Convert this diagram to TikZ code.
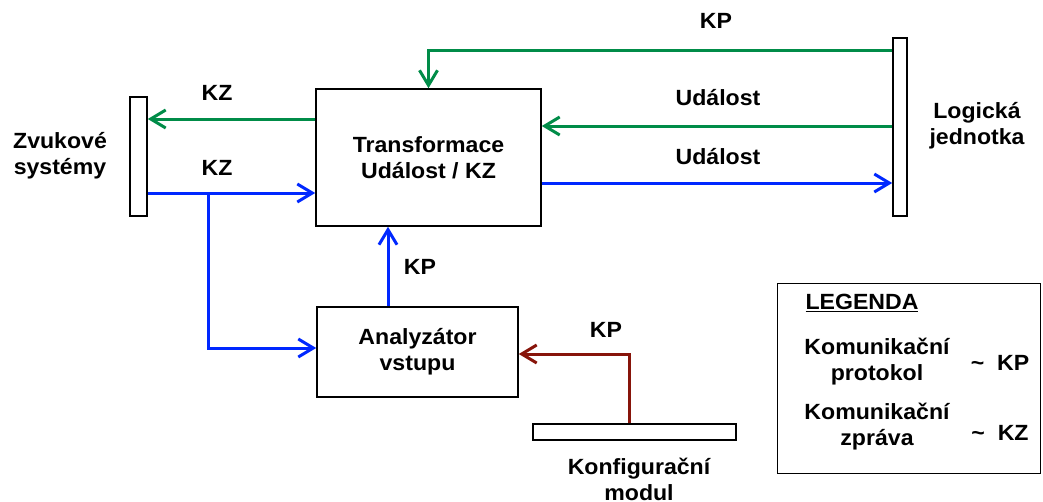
\documentclass[tikz,border=0pt]{standalone}
\usepackage{fontspec}
\setmainfont{Liberation Sans}[FakeStretch=1.05]
\usetikzlibrary{arrows.meta}
\definecolor{cgreen}{RGB}{0,140,72}
\definecolor{cblue}{RGB}{0,40,255}
\definecolor{cred}{RGB}{135,20,10}
\tikzset{
  txt/.style={font=\fontsize{22}{26}\selectfont\bfseries, align=center, inner sep=0pt},
  blk/.style={draw=black, line width=1.6pt, fill=white, inner sep=0pt},
  conn/.style={line width=3pt, -{Straight Barb[length=15pt,width=18pt,line width=3pt]}},
  gconn/.style={conn, draw=cgreen},
  bconn/.style={conn, draw=cblue},
  rconn/.style={conn, draw=cred},
}
\begin{document}
\begin{tikzpicture}[x=1pt,y=-1pt]
\useasboundingbox (0,0) rectangle (1043,501);
% blocks
\node[blk, minimum width=17pt, minimum height=119pt] (zs) at (138.5,156.5) {};
\node[blk, minimum width=225pt, minimum height=137pt, txt] (tr) at (428.5,157.5) {Transformace\\Událost / KZ};
\node[blk, minimum width=14pt, minimum height=178pt] (lj) at (900,127) {};
\node[blk, minimum width=201pt, minimum height=90pt, txt] (an) at (417.5,352) {Analyzátor\\vstupu};
\node[blk, minimum width=203pt, minimum height=16pt] (km) at (634.5,432) {};
% block captions
\node[txt] (zst) at (60,156) {Zvukové\\systémy};
\node[txt] (ljt) at (977,126) {Logická\\jednotka};
\node[txt] (kmt) at (639,479) {Konfigurační\\modul};
% connectors
\coordinate (br) at (208,193);
\draw[gconn] ([yshift=38.5pt]tr.west) -- ([yshift=38.5pt]tr.west -| zs.east);
\draw[bconn] ([yshift=-36.5pt]zs.east) -- ([yshift=-36.5pt]zs.east -| tr.west);
\draw[bconn] (br) |- ([yshift=4pt]an.west);
\draw[bconn] ([xshift=-29.5pt]an.north) -- ([xshift=-29.5pt]an.north |- tr.south);
\draw[gconn] ([yshift=1pt]lj.west) -- ([yshift=1pt]lj.west -| tr.east);
\draw[bconn] ([yshift=-25.5pt]tr.east) -- ([yshift=-25.5pt]tr.east -| lj.west);
\draw[gconn] ([yshift=77pt]lj.west) -| (tr.north);
\draw[rconn] ([xshift=-5.5pt]km.north) |- ([yshift=-2pt]an.east);
% connector labels
\node[txt] (l1) at (217,93) {KZ};
\node[txt] (l2) at (217,168) {KZ};
\node[txt] (l3) at (716,21) {KP};
\node[txt] (l4) at (718,98) {Událost};
\node[txt] (l5) at (718,157) {Událost};
\node[txt] (l6) at (420,267) {KP};
\node[txt] (l7) at (606,330) {KP};
% legend
\node[draw=black, line width=1pt, minimum width=263pt, minimum height=190pt, inner sep=0pt] (leg) at (908.5,378) {};
\node[txt] (lg) at (862,303) {\underline{LEGENDA}};
\node[txt] (lp) at (877,362) {Komunikační\\protokol};
\node[txt] (lz) at (877,427) {Komunikační\\zpráva};
\node[txt] (lkp) at (1000,363) {\textasciitilde\ \ KP};
\node[txt] (lkz) at (1000,433) {\textasciitilde\ \ KZ};
\end{tikzpicture}
\end{document}
